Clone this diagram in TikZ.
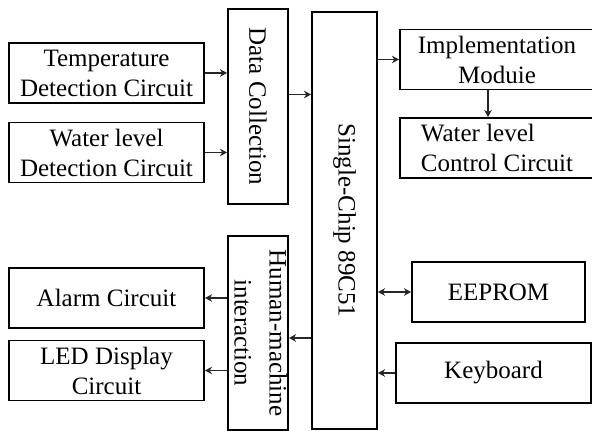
\documentclass[tikz,border=0pt]{standalone}
\usepackage{fontspec}
\setmainfont{Liberation Serif}
\usetikzlibrary{arrows.meta}
\newcommand\vtext[1]{\rotatebox{-90}{#1}}
\tikzset{
  >={Stealth[length=3.6pt,width=3.8pt]},
  blk/.style={draw=black,line width=0.9pt,minimum width=#1,minimum height=30pt,
    inner sep=1pt,align=center,font=\fontsize{12.5}{15}\selectfont},
  blk/.default=97.5pt,
  col/.style={blk=30pt,minimum height=#1},
  col/.default=97.5pt,
  flow/.style={->,line width=0.9pt,draw=black!85},
}
\begin{document}
\begin{tikzpicture}[x=0.5pt,y=-0.5pt]
  \useasboundingbox (0,0) rectangle (592,431);
  % inputs
  \node[blk] (temp) at (106.5,73) {Temperature\\Detection Circuit};
  \node[blk] (water) at (106.5,152.5) {Water level\\Detection Circuit};
  \node[col] (data) at (258,106.5) {\vtext{Data Collection}};
  % controller
  \node[col=208.5pt,minimum width=32.5pt] (chip) at (344.5,220.5) {\vtext{Single-Chip 89C51}};
  \node[blk=97pt] (impl) at (497,59.5) {Implementation\\Moduie};
  \node[blk=97pt,align=left] (ctrl) at (497,148) {Water level\\Control Circuit};
  \node[blk=86.5pt] (eeprom) at (498.5,292) {EEPROM};
  \node[blk] (keys) at (493.5,373) {Keyboard};
  % outputs
  \node[col=97pt] (hmi) at (258,333)
    {\makebox[0pt]{\vtext{\begin{tabular}{@{}c@{}}Human-machine\\[2.5pt]interaction\end{tabular}}}};
  \node[blk] (alarm) at (106.5,298) {Alarm Circuit};
  \node[blk] (led) at (106.5,370.5) {LED Display\\Circuit};
  % connectors
  \coordinate (dout) at ([yshift=6pt]data.east);
  \coordinate (hin) at ([yshift=-2.5pt]hmi.east);
  \coordinate (cin) at ([xshift=-4.5pt]impl.south);
  \draw[flow] (temp.east) -- (temp.east -| data.west);
  \draw[flow] (water.east) -- (water.east -| data.west);
  \draw[flow] (dout) -- (dout -| chip.west);
  \draw[flow] (impl.west -| chip.east) -- (impl.west);
  \draw[flow] (cin) -- (cin |- ctrl.north);
  \draw[flow,<->] (eeprom.west -| chip.east) -- (eeprom.west);
  \draw[flow] (keys.west) -- (keys.west -| chip.east);
  \draw[flow] (hin -| chip.west) -- (hin);
  \draw[flow] (alarm.east -| hmi.west) -- (alarm.east);
  \draw[flow] (led.east -| hmi.west) -- (led.east);
\end{tikzpicture}
\end{document}
